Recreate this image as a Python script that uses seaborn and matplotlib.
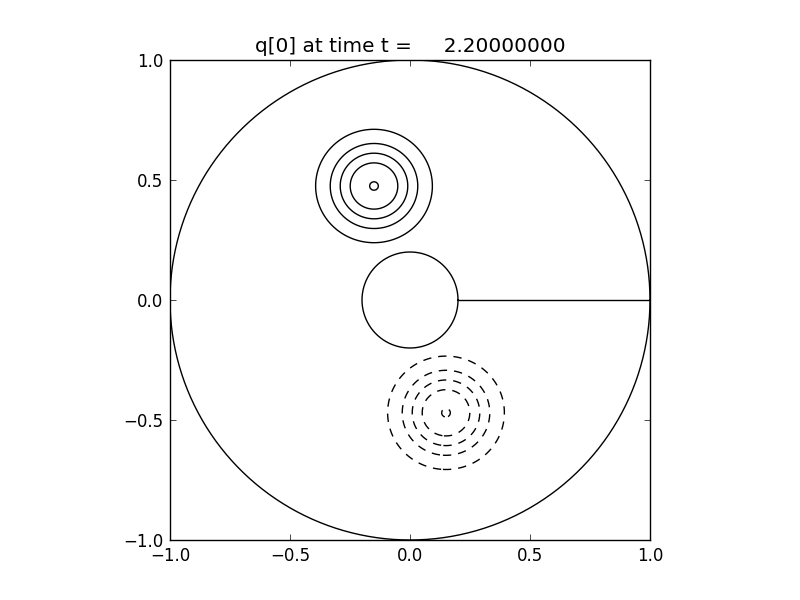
import numpy as np
import matplotlib
matplotlib.use("Agg")
import matplotlib.pyplot as plt
import seaborn as sns
import pandas as pd

# blob parameters (centre, peak value, widths, profile exponent)
blob_x = [-0.15, 0.15]
blob_y = [0.475, -0.47]
blob_amp = [0.904, -0.904]
blob_wx = [0.175, 0.175]
blob_wy = [0.170, 0.170]
blob_power = [2.4, 2.4]

# contour levels (negative ones come out dashed)
levels = [-0.9, -0.7, -0.5, -0.3, -0.1, 0.1, 0.3, 0.5, 0.7, 0.9]

# domain geometry: annulus with a cut along y = 0
outer_radius = 1.0
inner_radius = 0.2
cut_x = [0.2, 1.0]
cut_y = [0.0, 0.0]

ticks = [-1.0, -0.5, 0.0, 0.5, 1.0]
title = "q[0] at time t =     2.20000000"

sns.set_theme(style="white", rc={
    "xtick.direction": "in", "ytick.direction": "in",
    "xtick.top": True, "ytick.right": True,
    "xtick.bottom": True, "ytick.left": True,
    "xtick.major.size": 4, "ytick.major.size": 4,
    "xtick.major.width": 0.5, "ytick.major.width": 0.5,
    "xtick.major.pad": 5, "ytick.major.pad": 5,
    "xtick.color": "black", "ytick.color": "black",
    "axes.edgecolor": "black", "axes.linewidth": 1.0,
    "text.color": "black",
    "font.size": 12, "xtick.labelsize": 12, "ytick.labelsize": 12,
    "axes.titlesize": 14.4,
})
plt.rcParams["font.family"] = ["DejaVu Sans"]

# field on a grid
gx = np.linspace(-1, 1, 401)
X, Y = np.meshgrid(gx, gx)
Q = np.zeros_like(X)
for cx, cy, a, wx, wy, p in zip(blob_x, blob_y, blob_amp, blob_wx, blob_wy, blob_power):
    rho = np.hypot((X - cx) / wx, (Y - cy) / wy)
    Q += a * np.exp(-rho ** p)
R = np.hypot(X, Y)
Q = np.ma.masked_where((R < inner_radius) | (R > outer_radius), Q)

fig, ax = plt.subplots(figsize=(8, 6), dpi=100)
fig.subplots_adjust(left=0.125, right=0.9, bottom=0.1, top=0.9)

ax.contour(X, Y, Q, levels=levels, colors="black", linewidths=1.0,
           negative_linestyles=(0, (6, 5)))

# boundary circles and the cut
theta = np.linspace(0, 2 * np.pi, 721)
for r in [outer_radius, inner_radius]:
    circ = pd.DataFrame({"x": r * np.cos(theta), "y": r * np.sin(theta)})
    sns.lineplot(data=circ, x="x", y="y", sort=False, estimator=None,
                 color="black", linewidth=1.0, ax=ax)
sns.lineplot(x=cut_x, y=cut_y, color="black", linewidth=1.0, ax=ax)

ax.set_xlim(-1, 1)
ax.set_ylim(-1, 1)
ax.set_aspect("equal")
ax.set_xticks(ticks)
ax.set_yticks(ticks)
ax.set_xlabel("")
ax.set_ylabel("")
ax.set_title(title)

fig.savefig("out.png", dpi=100, facecolor="white")
